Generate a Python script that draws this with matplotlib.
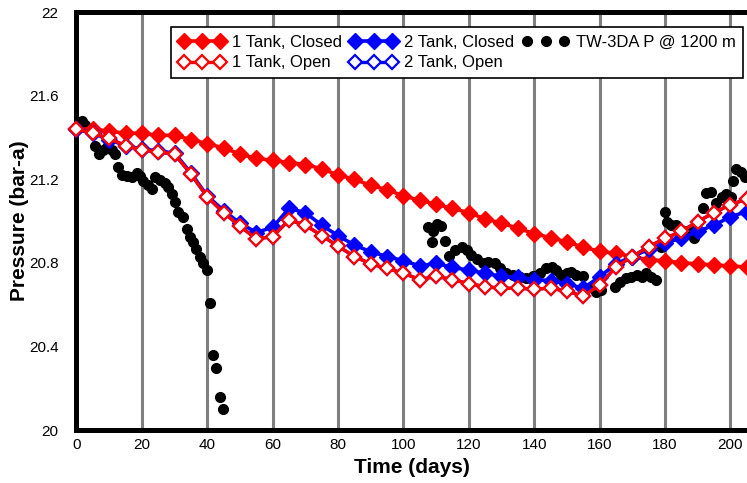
import matplotlib
matplotlib.use('Agg')
from matplotlib import pyplot as plt

plt.rcParams['font.family'] = ['Liberation Sans', 'DejaVu Sans']

# model runs, one point every 5 days
days = [0, 5, 10, 15, 20, 25, 30, 35, 40, 45, 50, 55, 60, 65, 70, 75, 80, 85, 90, 95, 100,
        105, 110, 115, 120, 125, 130, 135, 140, 145, 150, 155, 160, 165, 170, 175, 180,
        185, 190, 195, 200, 205]

tank1_closed = [21.44, 21.44, 21.43, 21.42, 21.42, 21.41, 21.41, 21.39, 21.37, 21.35, 21.32,
                21.30, 21.29, 21.28, 21.27, 21.25, 21.22, 21.20, 21.17, 21.15, 21.12, 21.10,
                21.08, 21.06, 21.04, 21.01, 20.99, 20.965, 20.94, 20.92, 20.90, 20.875,
                20.855, 20.845, 20.83, 20.815, 20.81, 20.80, 20.795, 20.79, 20.785, 20.78]

tank1_open = [21.44, 21.42, 21.395, 21.36, 21.34, 21.33, 21.32, 21.225, 21.115, 21.04, 20.975,
              20.915, 20.925, 21.005, 20.98, 20.93, 20.88, 20.83, 20.795, 20.773, 20.75, 20.72,
              20.735, 20.72, 20.70, 20.686, 20.678, 20.678, 20.675, 20.678, 20.665, 20.64,
              20.694, 20.78, 20.83, 20.877, 20.917, 20.95, 20.997, 21.04, 21.078, 21.105]

tank2_closed = [21.44, 21.42, 21.39, 21.36, 21.345, 21.335, 21.325, 21.23, 21.12, 21.05, 20.99,
                20.945, 20.97, 21.06, 21.04, 20.98, 20.93, 20.885, 20.853, 20.83, 20.81, 20.785,
                20.797, 20.778, 20.765, 20.75, 20.735, 20.73, 20.72, 20.715, 20.70, 20.678,
                20.733, 20.795, 20.83, 20.864, 20.896, 20.917, 20.95, 20.98, 21.02, 21.045]

tank2_open = [21.44, 21.42, 21.395, 21.36, 21.34, 21.33, 21.32, 21.225, 21.115, 21.04, 20.975,
              20.915, 20.925, 21.005, 20.98, 20.93, 20.88, 20.83, 20.795, 20.773, 20.75, 20.72,
              20.735, 20.72, 20.70, 20.686, 20.678, 20.678, 20.675, 20.678, 20.665, 20.64,
              20.694, 20.78, 20.83, 20.877, 20.917, 20.95, 20.997, 21.04, 21.078, 21.105]

# measured gauge pressure
obs_days = [1.6, 2.6, 5.7, 7.0, 8.2, 9.2, 10.8, 11.8, 12.8, 13.8, 15.3, 16.9, 18.4, 19.4, 20.4,
            21.9, 23.0, 24.0, 25.5, 27.1, 28.1, 29.1, 30.1, 31.1, 32.7, 33.7, 34.7, 35.7, 36.7,
            37.8, 38.8, 39.8, 40.8, 41.8, 42.6, 43.9, 44.9,
            107.6, 108.8, 109.1, 110.3, 111.6, 112.7, 114.0, 115.7, 117.8, 119.3, 120.8, 122.5,
            124.4, 125.9, 128.0, 129.5, 131.5, 133.5, 135.6, 137.6, 139.7, 141.7, 143.7, 145.3,
            146.8, 148.3, 149.9, 151.4, 152.9, 154.8, 157.5, 159.0, 160.5, 164.6, 166.2, 168.2,
            169.7, 171.5, 173.1, 174.3, 175.8, 177.4, 178.9, 180.0, 180.6, 182.0, 183.5, 185.0,
            186.6, 188.0, 189.0, 191.6, 192.7, 194.2, 195.7, 197.3, 198.8, 200.3, 200.8, 201.8,
            203.4, 204.4]
obs_p = [21.48, 21.46, 21.36, 21.32, 21.34, 21.355, 21.34, 21.32, 21.26, 21.22, 21.215, 21.21,
         21.23, 21.215, 21.19, 21.17, 21.155, 21.21, 21.195, 21.18, 21.165, 21.13, 21.09, 21.045,
         21.02, 20.96, 20.925, 20.90, 20.866, 20.83, 20.80, 20.765, 20.61, 20.36, 20.295, 20.16,
         20.10,
         20.973, 20.90, 20.95, 20.985, 20.976, 20.905, 20.835, 20.86, 20.877, 20.86, 20.837,
         20.82, 20.80, 20.805, 20.80, 20.774, 20.75, 20.74, 20.733, 20.725, 20.737, 20.75,
         20.774, 20.78, 20.765, 20.74, 20.75, 20.757, 20.74, 20.737, 20.686, 20.662, 20.67,
         20.683, 20.71, 20.725, 20.733, 20.74, 20.733, 20.753, 20.733, 20.718, 20.877, 21.045,
         20.997, 20.98, 20.98, 20.957, 20.95, 20.957, 20.917, 21.06, 21.135, 21.14, 21.085,
         21.116, 21.13, 21.116, 21.19, 21.25, 21.235, 21.21]

xticks = [0, 20, 40, 60, 80, 100, 120, 140, 160, 180, 200]
yticks = [20, 20.4, 20.8, 21.2, 21.6, 22]
ytick_labels = ['20', '20.4', '20.8', '21.2', '21.6', '22']

fig = plt.figure(figsize=(7.47, 4.83), dpi=100)
ax = fig.add_axes([0.1024, 0.1097, 0.8976, 0.8654])

obs, = ax.plot(obs_days, obs_p, 'o', color='black', markersize=7, zorder=3,
               label='TW-3DA P @ 1200 m')
l1c, = ax.plot(days, tank1_closed, '-D', color='red', lw=2.6, markersize=8, zorder=3,
               clip_on=False, label='1 Tank, Closed')
l2c, = ax.plot(days, tank2_closed, '-D', color='blue', lw=2.6, markersize=8, zorder=3,
               clip_on=False, label='2 Tank, Closed')
l2o, = ax.plot(days, tank2_open, '-D', color='blue', lw=2.4, markersize=7.5,
               markerfacecolor='white', markeredgewidth=1.6, zorder=3, clip_on=False,
               label='2 Tank, Open')
l1o, = ax.plot(days, tank1_open, '-D', color='red', lw=2.4, markersize=7.5,
               markerfacecolor='white', markeredgewidth=1.6, zorder=3, clip_on=False,
               label='1 Tank, Open')

ax.set_xlim(0, 205.1)
ax.set_ylim(20, 22)
ax.set_xticks(xticks)
ax.set_yticks(yticks)
ax.set_yticklabels(ytick_labels)
ax.tick_params(axis='both', length=0, labelsize=11)
ax.tick_params(axis='x', pad=6)
ax.tick_params(axis='y', pad=13)

# vertical gray grid only
ax.grid(axis='x', color='#7f7f7f', lw=2.2)
ax.set_axisbelow(True)

for side in ['left', 'bottom', 'top']:
    ax.spines[side].set_linewidth(3.6)
    ax.spines[side].set_color('black')
ax.spines['right'].set_visible(False)

ax.set_xlabel('Time (days)', fontsize=15, fontweight='bold', labelpad=4)
ax.set_ylabel('Pressure (bar-a)', fontsize=15, fontweight='bold')
ax.yaxis.set_label_coords(-0.071, 0.5)

leg = ax.legend(handles=[l1c, l1o, l2c, l2o, obs], ncol=3, numpoints=3,
                loc='upper right', bbox_to_anchor=(0.994, 0.964), borderaxespad=0,
                fontsize=12, fancybox=False, framealpha=1, edgecolor='black',
                handlelength=2.8, handletextpad=0.4, columnspacing=0.5,
                labelspacing=0.35, borderpad=0.45)
leg.get_frame().set_linewidth(1.2)
leg.set_zorder(5)

plt.savefig('out.png', dpi=100)
